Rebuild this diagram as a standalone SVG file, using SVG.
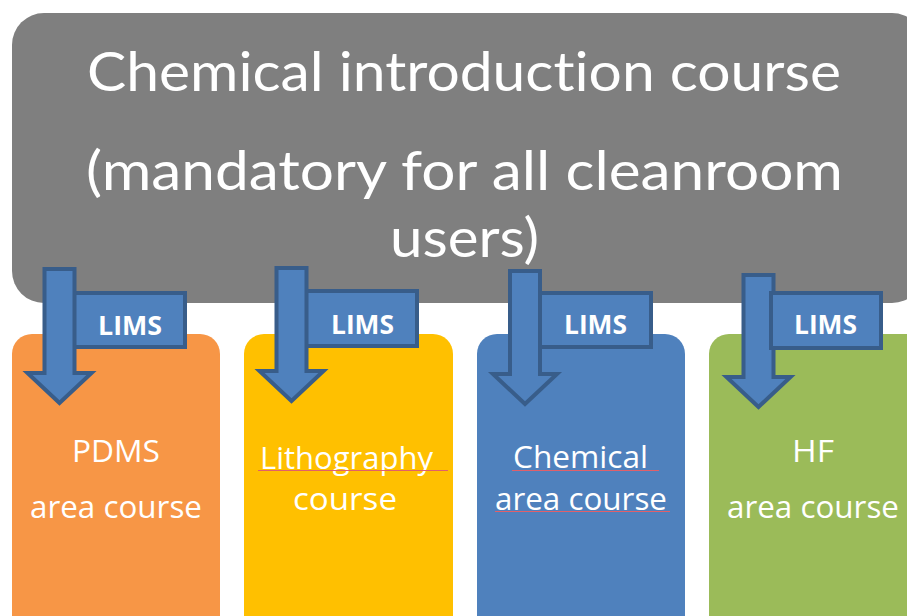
<svg xmlns="http://www.w3.org/2000/svg" width="907" height="616" viewBox="0 0 907 616">
<style>
.t{font-family:"Open Sans","Noto Sans","Liberation Sans",sans-serif;fill:#fff;text-anchor:middle;font-variant-ligatures:none}
.title{font-family:Lato,"Open Sans","Liberation Sans",sans-serif;font-size:55px;font-feature-settings:"liga" 0,"clig" 0,"dlig" 0}
.lbl{font-size:31px}
.lims{font-family:"Open Sans","Noto Sans","Liberation Sans",sans-serif;font-weight:bold;font-size:27px;fill:#fff;text-anchor:middle}
.arr{fill:#4f81bd;stroke:#385d8a;stroke-width:4;stroke-linejoin:miter}
.sq{stroke:#e0606a;stroke-width:1.2;fill:none}
</style>
<rect width="907" height="616" fill="#fff"/>
<g id="node-intro">
<rect x="12" y="13" width="912" height="290" rx="32" fill="#7f7f7f"/>
<text class="t title" x="464" y="91" textLength="754" lengthAdjust="spacingAndGlyphs">Chemical introduction course</text>
<text class="t title" x="464.5" y="190" textLength="757" lengthAdjust="spacingAndGlyphs">(mandatory for all cleanroom</text>
<text class="t title" x="464.5" y="257" textLength="149" lengthAdjust="spacingAndGlyphs">users)</text>
</g>
<g id="node-pdms">
<rect x="12" y="334" width="208" height="320" rx="20" fill="#f79646"/>
<text class="t lbl" x="116" y="462" textLength="88" lengthAdjust="spacingAndGlyphs">PDMS</text>
<text class="t lbl" x="116" y="518" textLength="172" lengthAdjust="spacingAndGlyphs">area course</text>
</g>
<g id="node-litho">
<rect x="244" y="334" width="209" height="320" rx="20" fill="#ffc000"/>
<text class="t lbl" x="346.5" y="469" textLength="173" lengthAdjust="spacingAndGlyphs">Lithography</text>
<text class="t lbl" x="345" y="510" textLength="104" lengthAdjust="spacingAndGlyphs">course</text>
<path class="sq" d="M258,470.5 H448"/>
</g>
<g id="node-chem">
<rect x="477" y="334" width="208" height="320" rx="20" fill="#4f81bd"/>
<text class="t lbl" x="580.5" y="468" textLength="135" lengthAdjust="spacingAndGlyphs">Chemical</text>
<text class="t lbl" x="581" y="510" textLength="172" lengthAdjust="spacingAndGlyphs">area course</text>
<path class="sq" d="M512,470.5 H659"/>
<path class="sq" d="M495,511.5 H670"/>
</g>
<g id="node-hf">
<rect x="709" y="334" width="220" height="320" rx="20" fill="#9bbb59"/>
<text class="t lbl" x="813" y="462" textLength="42" lengthAdjust="spacingAndGlyphs">HF</text>
<text class="t lbl" x="813" y="518" textLength="172" lengthAdjust="spacingAndGlyphs">area course</text>
</g>
<g id="connectors">
<rect class="arr" x="62" y="293" width="123" height="54"/>
<rect class="arr" x="294" y="291" width="123" height="55"/>
<rect class="arr" x="527" y="293" width="124" height="54"/>
<path class="arr" d="M44.5,269 H74.5 V373 H91.5 L59.5,403 L27.5,373 H44.5 Z"/>
<path class="arr" d="M276.5,268 H306.5 V371 H323.5 L291.5,401 L259.5,371 H276.5 Z"/>
<path class="arr" d="M510,271 H540 V374 H557 L525,404 L493,374 H510 Z"/>
<path class="arr" d="M743.5,275 H773.5 V377 H790.5 L758.5,407 L726.5,377 H743.5 Z"/>
<rect class="arr" x="771" y="293" width="110" height="55"/>
<text class="lims" x="130" y="335" textLength="64" lengthAdjust="spacingAndGlyphs">LIMS</text>
<text class="lims" x="362.5" y="334" textLength="63" lengthAdjust="spacingAndGlyphs">LIMS</text>
<text class="lims" x="595.5" y="334" textLength="63" lengthAdjust="spacingAndGlyphs">LIMS</text>
<text class="lims" x="825.5" y="334" textLength="63" lengthAdjust="spacingAndGlyphs">LIMS</text>
</g>
</svg>
